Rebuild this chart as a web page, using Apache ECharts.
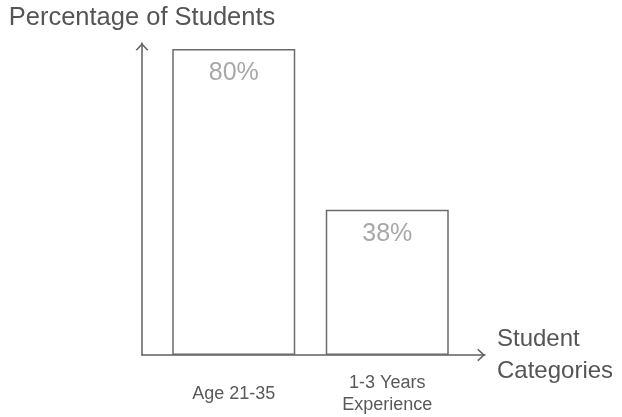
<!DOCTYPE html>
<html>
<head>
<meta charset="utf-8">
<script src="https://cdn.jsdelivr.net/npm/echarts@6/dist/echarts.min.js"></script>
<style>
    html, body { margin: 0; padding: 0; background: #fff; }
    #chart { width: 622px; height: 417px; }
</style>
</head>
<body>
<div id="chart"></div>
<script>
let categories = ['Age 21-35', '1-3 Years\nExperience']
let percentages = [80, 38]
let yAxisName = 'Percentage of Students'
let xAxisName = 'Student\nCategories'

let font = 'Liberation Sans, Arial, sans-serif'
let lineColor = '#5f5f5f'
// open chevron arrow (points up, rotated by echarts; aspect kept, so drawn at 13x7.6)
let chevron = 'path://M0,7 L6.5,0 L13,7 L11.5,7.6 L6.5,2.2 L1.5,7.6 Z'

let option = {
    animation: false,
    grid: [
        // bars
        { left: 157, right: 158, top: 49, bottom: 62 },
        // arrow axes
        { left: 142, right: 137, top: 43, bottom: 62 }
    ],
    xAxis: [
        {
            type: 'category',
            gridIndex: 0,
            data: categories,
            axisLine: { show: false },
            axisTick: { show: false },
            axisLabel: {
                margin: 39,
                verticalAlign: 'middle',
                color: '#595959',
                fontFamily: font,
                fontSize: 18,
                lineHeight: 22
            }
        },
        {
            type: 'value',
            gridIndex: 1,
            min: 0,
            max: 1,
            axisLine: {
                show: true,
                symbol: ['none', chevron],
                symbolSize: [13, 7.6],
                symbolOffset: [0, -3.8],
                lineStyle: { color: lineColor, width: 1.5 }
            },
            axisTick: { show: false },
            axisLabel: { show: false },
            splitLine: { show: false },
            name: xAxisName,
            nameLocation: 'end',
            nameGap: 12,
            nameTextStyle: {
                color: '#555',
                fontFamily: font,
                fontSize: 24,
                lineHeight: 32,
                align: 'left',
                verticalAlign: 'middle'
            }
        }
    ],
    yAxis: [
        {
            type: 'value',
            gridIndex: 0,
            min: 0,
            max: 80,
            show: false
        },
        {
            type: 'value',
            gridIndex: 1,
            min: 0,
            max: 1,
            axisLine: {
                show: true,
                symbol: ['none', chevron],
                symbolSize: [13, 7.6],
                symbolOffset: [0, -3.8],
                lineStyle: { color: lineColor, width: 1.5 }
            },
            axisTick: { show: false },
            axisLabel: { show: false },
            splitLine: { show: false },
            name: yAxisName,
            nameLocation: 'end',
            nameGap: 12,
            nameTextStyle: {
                color: '#555',
                fontFamily: font,
                fontSize: 25.5
            }
        }
    ],
    series: [
        {
            type: 'bar',
            xAxisIndex: 0,
            yAxisIndex: 0,
            data: percentages,
            barWidth: 123,
            itemStyle: {
                color: '#fff',
                borderColor: '#6b6b6b',
                borderWidth: 1.5
            },
            label: {
                show: true,
                position: 'insideTop',
                distance: 12,
                formatter: '{c}%',
                color: '#a8a8a8',
                fontFamily: font,
                fontSize: 25
            }
        }
    ]
}

let chart = echarts.init(document.getElementById('chart'))
chart.setOption(option)
</script>
</body>
</html>
